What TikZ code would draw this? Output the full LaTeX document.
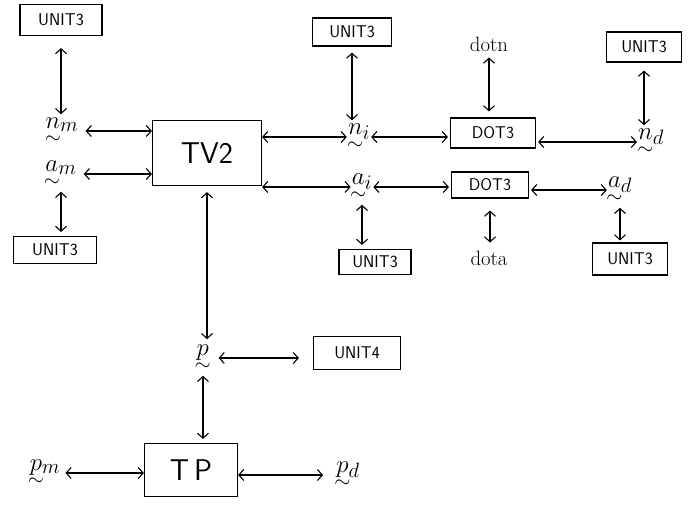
\documentclass[tikz,border=0pt]{standalone}
\usepackage{amsmath}
\usetikzlibrary{arrows.meta}
\newcommand{\tl}[2]{\mathord{\ooalign{$#1$\cr\hidewidth\smash{\raisebox{-0.62em}{$\scriptstyle\sim$}}\hidewidth\cr}}_{#2}\vphantom{\raisebox{-0.66em}{$\scriptstyle\sim$}}}
\begin{document}
\begin{tikzpicture}[x=1pt,y=-1pt,
 box/.style={draw, line width=1.1pt, font=\sffamily\fontsize{17}{17}\selectfont, minimum width=80pt, minimum height=29pt, inner sep=2pt},
 bigbox/.style={box, font=\sffamily\fontsize{30}{30}\selectfont},
 lbl/.style={font=\fontsize{24.88}{25}\selectfont, inner sep=1pt},
 txt/.style={font=\fontsize{20.74}{21}\selectfont, inner sep=2pt},
 con/.style={{Straight Barb[length=5pt,width=11pt]}-{Straight Barb[length=5pt,width=11pt]}, line width=1.1pt},
]
\useasboundingbox (0,0) rectangle (695,504);
% boxes
\node[box, minimum width=82pt, minimum height=31pt] (u1) at (61,20) {UNIT3};
\node[box, minimum width=83pt, minimum height=27pt] (u2) at (55,250) {UNIT3};
\node[bigbox, minimum width=109pt, minimum height=65pt] (tv2) at (207,153) {TV2};
\node[box, minimum width=79pt, minimum height=28pt] (u3) at (352,32) {UNIT3};
\node[box, minimum width=85pt, minimum height=30pt] (d1) at (493,133) {DOT3};
\node[box, minimum width=77pt, minimum height=26pt] (d2) at (490,185) {DOT3};
\node[box, minimum width=75pt, minimum height=30pt] (u4) at (644,47) {UNIT3};
\node[box, minimum width=72pt, minimum height=25pt] (u5) at (375,262) {UNIT3};
\node[box, minimum width=75pt, minimum height=32pt] (u6) at (630,259) {UNIT3};
\node[box, minimum width=87pt, minimum height=33pt] (unit4) at (357,353) {UNIT4};
\node[bigbox, minimum width=93pt, minimum height=53pt] (tp) at (191,470) {T\,P};
% labels
\node[lbl] (nm) at (62,131) {$\tl{n}{m}$};
\node[lbl] (am) at (61,174) {$\tl{a}{m}$};
\node[lbl] (ni) at (359,137) {$\tl{n}{i}$};
\node[lbl] (ai) at (362,187) {$\tl{a}{i}$};
\node[lbl] (nd) at (651,142) {$\tl{n}{d}$};
\node[lbl] (ad) at (620,190) {$\tl{a}{d}$};
\node[lbl] (p) at (203,358) {$\tl{p}{}$};
\node[lbl] (pm) at (45,473) {$\tl{p}{m}$};
\node[lbl] (pd) at (348,475) {$\tl{p}{d}$};
\node[txt] (dotn) at (489,44) {dotn};
\node[txt] (dota) at (489,258) {dota};
% connectors
\draw[con, shorten <=12pt, shorten >=2pt] (u1.south) -- (u1.south |- nm.north);
\draw[con, shorten <=3pt, shorten >=4pt] (am.south) -- (am.south |- u2.north);
\draw[con, shorten <=6pt] (nm.east) -- (nm.east -| tv2.west);
\draw[con, shorten <=6pt] (am.east) -- (am.east -| tv2.west);
\draw[con] (tv2.east |- ni.west) -- (ni.west);
\draw[con] (tv2.east |- ai.west) -- (ai.west);
\draw[con, shorten <=6pt, shorten >=2pt] (u3.south) -- (u3.south |- ni.north);
\draw[con, shorten <=3pt, shorten >=4pt] (ai.south) -- (ai.south |- u5.north);
\draw[con, shorten >=2pt] (ni.east) -- (ni.east -| d1.west);
\draw[con, shorten >=2pt] (ai.east) -- (ai.east -| d2.west);
\draw[con, shorten <=2pt] (d1.east |- nd.west) -- (nd.west);
\draw[con, shorten <=2pt] (d2.east |- ad.west) -- (ad.west);
\draw[con, shorten <=4pt, shorten >=6pt] (dotn.south) -- (dotn.south |- d1.north);
\draw[con, shorten <=12pt, shorten >=6pt] (d2.south) -- (d2.south |- dota.north);
\draw[con, shorten <=8pt, shorten >=2pt] (u4.south) -- (u4.south |- nd.north);
\draw[con, shorten <=3pt, shorten >=2pt] (ad.south) -- (ad.south |- u6.north);
\draw[con, shorten <=6pt, shorten >=4pt] (tv2.south) -- (tv2.south |- p.north);
\draw[con, shorten <=3pt, shorten >=4pt] (p.south) -- (p.south |- tp.north);
\draw[con, shorten <=8pt, shorten >=14pt] (p.east) -- (p.east -| unit4.west);
\draw[con, shorten <=4pt] (pm.east) -- (pm.east -| tp.west);
\draw[con, shorten >=12pt] (tp.east |- pd.west) -- (pd.west);
\end{tikzpicture}
\end{document}
